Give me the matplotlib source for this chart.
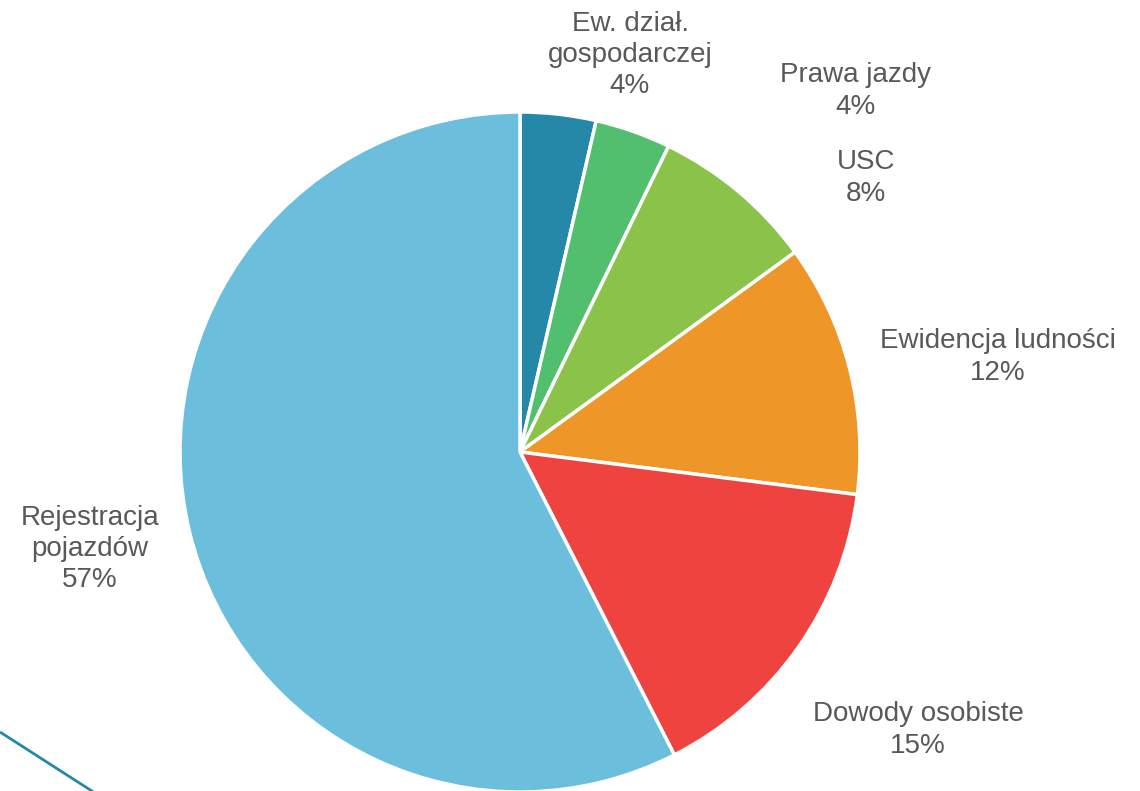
import matplotlib
matplotlib.use("Agg")
import matplotlib.pyplot as plt
import numpy as np

categories = ["Ew. dział.\ngospodarczej", "Prawa jazdy", "USC", "Ewidencja ludności",
              "Dowody osobiste", "Rejestracja\npojazdów"]
values = [3.6, 3.6, 7.8, 12.0, 15.5, 57.5]
pct_labels = ["4%", "4%", "8%", "12%", "15%", "57%"]
colors = ["#2688A8", "#52BF6F", "#8BC34A", "#EF9629", "#EF4340", "#6BBFDD"]

W, H = 1140, 791
cx, cy, R = 520, 452, 340  # pixel layout of pie
fig = plt.figure(figsize=(W / 100, H / 100), dpi=100)
ax = fig.add_axes([0, 0, 1, 1])
ax.axis("off")

ax.pie(values, colors=colors, startangle=90, counterclock=False, radius=1.0,
       wedgeprops=dict(edgecolor="white", linewidth=2.5))
ax.set_aspect("auto")
ax.set_xlim(-cx / R, (W - cx) / R)
ax.set_ylim(-(H - cy) / R, cy / R)

def px(x, y):
    return ((x - cx) / R, (cy - y) / R)

label_pos = [(630, 55), (855, 91), (866, 178), (998, 357), (918, 730), (90, 549)]
for cat, p, (lx, ly) in zip(categories, pct_labels, label_pos):
    x, y = px(lx, ly)
    ax.text(x, y, f"{cat}\n{p}", ha="center", va="center", fontsize=20,
            color="#595959", family="Liberation Sans", linespacing=1.27)

# decorative line bottom-left
x0, y0 = px(0, 732)
x1, y1 = px(95, 793)
ax.plot([x0, x1], [y0, y1], color="#2688A8", lw=2, solid_capstyle="butt", clip_on=False)

fig.savefig("out.png", dpi=100)
